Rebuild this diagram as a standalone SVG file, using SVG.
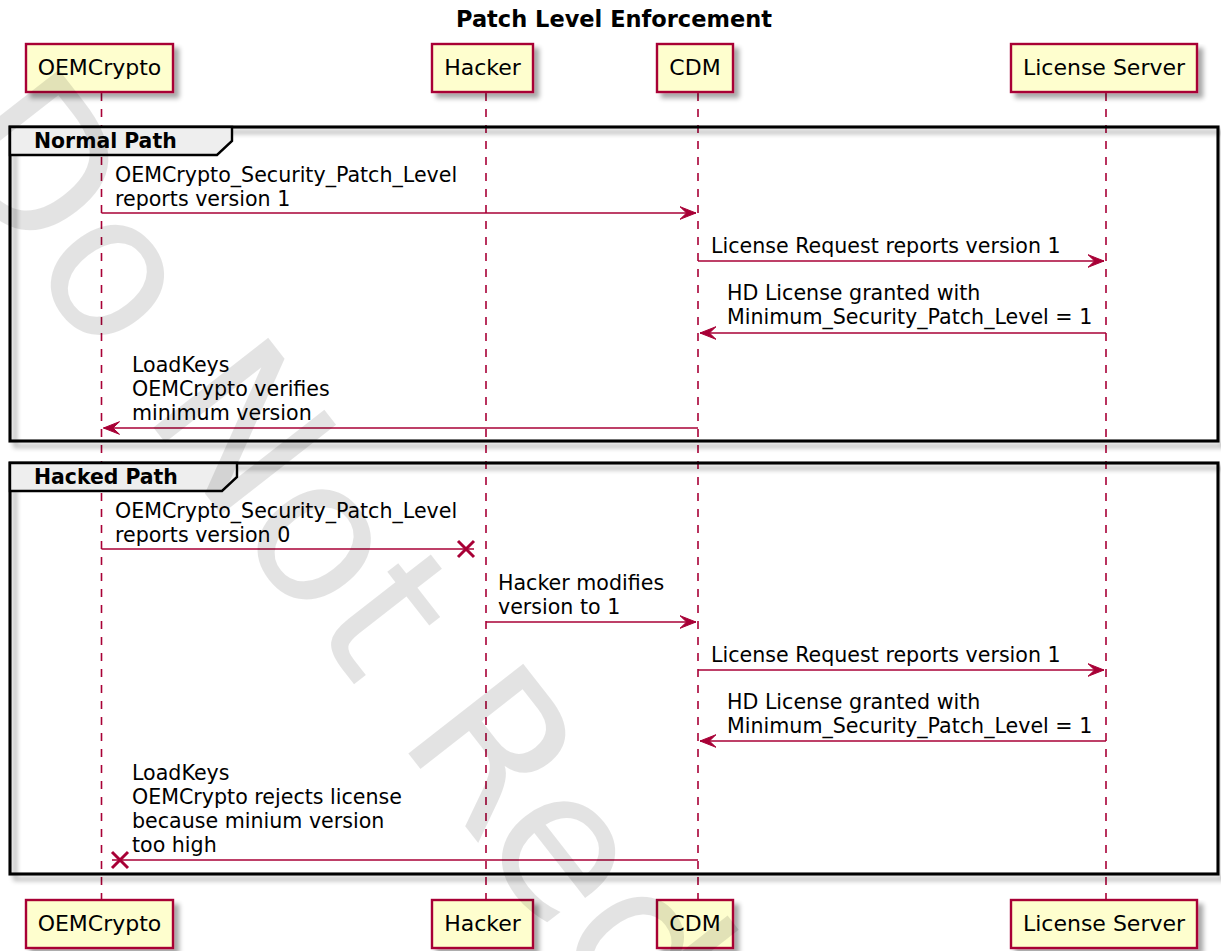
<svg xmlns="http://www.w3.org/2000/svg" width="1221" height="951" viewBox="0 0 1221 951">
<style>
.t{font-family:"DejaVu Sans","Liberation Sans",sans-serif;font-size:20.6px;fill:#000}
.p{font-family:"DejaVu Sans","Liberation Sans",sans-serif;font-size:22px;fill:#000;text-anchor:middle}
.b{font-family:"DejaVu Sans","Liberation Sans",sans-serif;font-weight:bold;fill:#000}
.box{fill:#FEFECE;stroke:#A80036;stroke-width:2.4}
.life{stroke:#A80036;stroke-width:1.6;stroke-dasharray:8,8;fill:none}
.msg{stroke:#A80036;stroke-width:1.6;fill:none}
.x{stroke:#A80036;stroke-width:3;fill:none}
.frame{fill:none;stroke:#000;stroke-width:3.1}
.tab{fill:#EEEEEE;stroke:#000;stroke-width:2.4}
.wm{font-family:"DejaVu Sans","Liberation Sans",sans-serif;font-size:200px;fill:#000;fill-opacity:0.11}
</style>
<defs>
<filter id="sh" x="-10%" y="-10%" width="130%" height="140%">
<feGaussianBlur in="SourceAlpha" stdDeviation="2.5"/>
<feOffset dx="5" dy="5" result="o"/>
<feComponentTransfer><feFuncA type="linear" slope="0.35"/></feComponentTransfer>
<feMerge><feMergeNode/><feMergeNode in="SourceGraphic"/></feMerge>
</filter>
<marker id="ah" viewBox="-17 -7 18 14" markerWidth="18" markerHeight="14" refX="0" refY="0" markerUnits="userSpaceOnUse" orient="auto">
<path d="M0,0 L-16,-6.3 L-9.4,0 L-16,6.3 Z" fill="#A80036" stroke="#A80036" stroke-width="1"/>
</marker>
</defs>
<rect width="1221" height="951" fill="#fff"/>
<text class="b" x="614" y="27" font-size="22.5" text-anchor="middle">Patch Level Enforcement</text>

<g id="lifelines">
<line class="life" x1="101.5" y1="93" x2="101.5" y2="900"/>
<line class="life" x1="486" y1="93" x2="486" y2="900"/>
<line class="life" x1="698" y1="93" x2="698" y2="900"/>
<line class="life" x1="1106" y1="93" x2="1106" y2="900"/>
</g>

<g id="group-normal">
<rect class="frame" x="10" y="127" width="1208" height="314" filter="url(#sh)"/>
<path class="tab" d="M10,127 L232,127 L232,141 L217,155 L10,155 Z"/>
<text class="b" x="34" y="148" font-size="20.4">Normal Path</text>
</g>
<g id="group-hacked">
<rect class="frame" x="10" y="463" width="1208" height="411" filter="url(#sh)"/>
<path class="tab" d="M10,463 L237,463 L237,477 L222,491 L10,491 Z"/>
<text class="b" x="34" y="484" font-size="20.4">Hacked Path</text>
</g>

<g id="p-oemcrypto-top"><rect class="box" x="26" y="44" width="147" height="48" filter="url(#sh)"/><text class="p" x="99.5" y="75">OEMCrypto</text></g>
<g id="p-hacker-top"><rect class="box" x="432" y="44" width="101" height="48" filter="url(#sh)"/><text class="p" x="482.5" y="75">Hacker</text></g>
<g id="p-cdm-top"><rect class="box" x="657" y="44" width="76" height="48" filter="url(#sh)"/><text class="p" x="695" y="75">CDM</text></g>
<g id="p-ls-top"><rect class="box" x="1011" y="44" width="186" height="48" filter="url(#sh)"/><text class="p" x="1104" y="75">License Server</text></g>

<g id="p-oemcrypto-bottom"><rect class="box" x="26" y="900" width="147" height="48" filter="url(#sh)"/><text class="p" x="99.5" y="931">OEMCrypto</text></g>
<g id="p-hacker-bottom"><rect class="box" x="432" y="900" width="101" height="48" filter="url(#sh)"/><text class="p" x="482.5" y="931">Hacker</text></g>
<g id="p-cdm-bottom"><rect class="box" x="657" y="900" width="76" height="48" filter="url(#sh)"/><text class="p" x="695" y="931">CDM</text></g>
<g id="p-ls-bottom"><rect class="box" x="1011" y="900" width="186" height="48" filter="url(#sh)"/><text class="p" x="1104" y="931">License Server</text></g>

<g id="connectors">
<line class="msg" x1="101.5" y1="213" x2="696" y2="213" marker-end="url(#ah)"/>
<text class="t" x="115" y="182">OEMCrypto_Security_Patch_Level</text>
<text class="t" x="115" y="206">reports version 1</text>

<line class="msg" x1="698" y1="261" x2="1104" y2="261" marker-end="url(#ah)"/>
<text class="t" x="711" y="253">License Request reports version 1</text>

<line class="msg" x1="1106" y1="333" x2="700" y2="333" marker-end="url(#ah)"/>
<text class="t" x="727" y="300">HD License granted with</text>
<text class="t" x="727" y="324">Minimum_Security_Patch_Level = 1</text>

<line class="msg" x1="698" y1="428" x2="103.5" y2="428" marker-end="url(#ah)"/>
<text class="t" x="132" y="372">LoadKeys</text>
<text class="t" x="132" y="396">OEMCrypto verifies</text>
<text class="t" x="132" y="420">minimum version</text>

<line class="msg" x1="101.5" y1="549" x2="474" y2="549"/>
<path class="x" d="M458,541 L474,557 M458,557 L474,541"/>
<text class="t" x="115" y="518">OEMCrypto_Security_Patch_Level</text>
<text class="t" x="115" y="542">reports version 0</text>

<line class="msg" x1="486" y1="622" x2="696" y2="622" marker-end="url(#ah)"/>
<text class="t" x="498" y="590">Hacker modifies</text>
<text class="t" x="498" y="614">version to 1</text>

<line class="msg" x1="698" y1="670" x2="1104" y2="670" marker-end="url(#ah)"/>
<text class="t" x="711" y="662">License Request reports version 1</text>

<line class="msg" x1="1106" y1="741" x2="700" y2="741" marker-end="url(#ah)"/>
<text class="t" x="727" y="709">HD License granted with</text>
<text class="t" x="727" y="733">Minimum_Security_Patch_Level = 1</text>

<line class="msg" x1="698" y1="860" x2="112" y2="860"/>
<path class="x" d="M112,852 L128,868 M112,868 L128,852"/>
<text class="t" x="132" y="780">LoadKeys</text>
<text class="t" x="132" y="804">OEMCrypto rejects license</text>
<text class="t" x="132" y="828">because minium version</text>
<text class="t" x="132" y="852">too high</text>
</g>

<text class="wm" transform="translate(-68,144) rotate(52)">Do Not Red</text>
</svg>
